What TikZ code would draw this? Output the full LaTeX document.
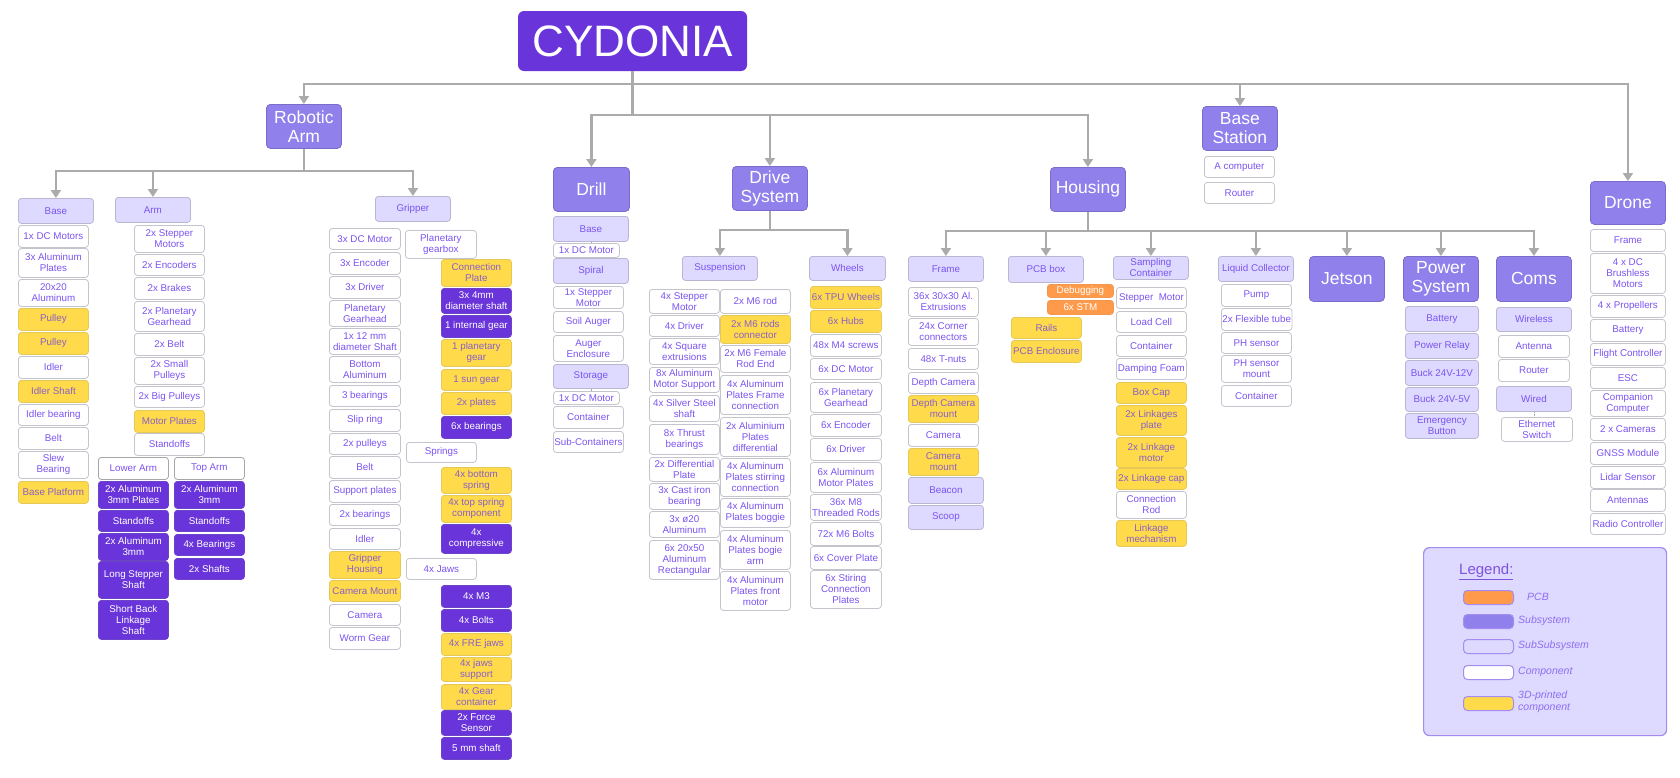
\documentclass[tikz,border=0pt]{standalone}
\usepackage{fontspec}
\setmainfont{Liberation Sans}
\usepackage{tikz}
\usetikzlibrary{positioning}
\usetikzlibrary{arrows.meta}

\definecolor{cydpurple}{RGB}{105,52,218}
\definecolor{subpurple}{RGB}{143,128,236}
\definecolor{subsubfill}{RGB}{221,217,255}
\definecolor{boxline}{RGB}{196,196,204}
\definecolor{txtpurple}{RGB}{124,84,240}
\definecolor{prttxt}{RGB}{138,96,200}
\definecolor{printyellow}{RGB}{255,218,74}
\definecolor{pcborange}{RGB}{255,154,74}
\definecolor{linegrey}{RGB}{171,171,171}
\definecolor{legendline}{RGB}{164,140,240}

\newcommand{\compfont}{\fontsize{9.8}{11}\selectfont}
\newcommand{\subsysfont}{\fontsize{17.5}{19}\selectfont}

\tikzset{
  box/.style={rounded corners=3pt, draw=boxline, line width=0.8pt, align=center, anchor=north west,
    font=\compfont, text=txtpurple, inner xsep=1pt, inner ysep=1pt, minimum width=70pt, minimum height=22pt},
  comp/.style={box, fill=white},
  prt/.style={box, fill=printyellow, draw=printyellow!80!gray, text=prttxt},
  dark/.style={box, fill=cydpurple, draw=cydpurple!80!gray, text=white},
  pcb/.style={box, fill=pcborange, draw=pcborange!90!gray, text=white, minimum width=66pt, minimum height=13pt},
  small/.style={comp, minimum width=66pt, minimum height=14pt},
  subsub/.style={box, fill=subsubfill, draw=boxline!80!subpurple, minimum width=75pt, minimum height=24pt},
  subsys/.style={rounded corners=4pt, fill=subpurple, draw=subpurple!85!black, line width=0.8pt, text=white,
    font=\subsysfont, align=center, minimum width=75pt, minimum height=44pt, inner sep=1pt, anchor=north west},
  link/.style={draw=linegrey, line width=2.4pt, -{Triangle[length=8pt,width=10pt]}},
  stub/.style={draw=linegrey, line width=0.7pt},
  swatch/.style={rounded corners=4pt, draw=legendline, line width=1pt, minimum width=50pt, minimum height=14pt,
    anchor=north west, inner sep=0pt},
  legendtxt/.style={font=\fontsize{10.5}{12}\selectfont\itshape, text=txtpurple!85!white, anchor=west, align=left, inner sep=0pt}
}

\begin{document}
\begin{tikzpicture}[x=1pt, y=-1pt]
\path[fill=white, use as bounding box] (0,0) rectangle (1680,777);

% raiz
\node[rounded corners=6pt, fill=cydpurple, text=white, font=\fontsize{44}{50}\selectfont,
  minimum width=229pt, minimum height=60pt] (cyd) at (632.5,41) {CYDONIA};

% subsistemas
\node[subsys] (robot) at (266,104) {Robotic\\Arm};
\node[subsys, minimum width=76pt] (drill) at (553,167) {Drill};
\node[subsys] (drive) at (732,166) {Drive\\System};
\node[subsys] (housing) at (1050,167) {Housing};
\node[subsys] (station) at (1202,106) {Base\\Station};
\node[subsys, minimum height=43pt] (drone) at (1590,181) {Drone};
\node[subsys, minimum height=45pt] (jetson) at (1309,256) {Jetson};
\node[subsys, minimum height=45pt] (power) at (1403,256) {Power\\System};
\node[subsys, minimum height=45pt] (coms) at (1496,256) {Coms};

\draw[link] (cyd.south) -- ++(0,13) -| (robot.north);
\draw[link] (cyd.south) -- ++(0,13) -| (station.north);
\draw[link] (cyd.south) -- ++(0,13) -| (drone.north);
\draw[link] (cyd.south) -- ++(0,44) -| (drill.north);
\draw[link] (cyd.south) -- ++(0,44) -| (drive.north);
\draw[link] (cyd.south) -- ++(0,44) -| (housing.north);

% brazo robotico
\node[subsub, minimum height=25pt] (armbase) at (18,198) {Base};
\node[subsub, minimum height=25pt] (arm) at (115,197) {Arm};
\node[subsub, minimum height=25pt] (gripper) at (375,196) {Gripper};
\draw[link] (robot.south) -- ++(0,22) -| (armbase.north);
\draw[link] (robot.south) -- ++(0,22) -| (arm.north);
\draw[link] (robot.south) -- ++(0,22) -| (gripper.north);

\foreach \st/\yy/\hh/\lbl [count=\i] in {comp/225/22/1x DC Motors, comp/248/29/3x Aluminum\\Plates,
  comp/279/27/20x20\\Aluminum, prt/308/22/Pulley, prt/332/22/Pulley, comp/356/22/Idler,
  prt/380/22/Idler Shaft, comp/404/21/Idler bearing, comp/427/22/Belt, comp/451/27/Slew\\Bearing,
  prt/481/22/Base Platform}
  \node[\st, minimum height=\hh] (base\i) at (18,\yy) {\lbl};

\foreach \st/\yy/\hh/\lbl [count=\i] in {comp/225/27/2x Stepper\\Motors, comp/254/21/2x Encoders,
  comp/277/22/2x Brakes, comp/301/30/2x Planetary\\Gearhead, comp/333/22/2x Belt,
  comp/357/27/2x Small\\Pulleys, comp/386/21/2x Big Pulleys, prt/410/22/Motor Plates, comp/433/22/Standoffs}
  \node[\st, minimum height=\hh] (arm\i) at (134,\yy) {\lbl};

\node[comp, draw=gray!70] (lowerarm) at (98,457) {Lower Arm};
\node[comp, draw=gray!70] (toparm) at (174,457) {Top Arm};
\foreach \st/\yy/\hh/\lbl [count=\i] in {dark/481/27/2x Aluminum\\3mm Plates, dark/510/21/Standoffs,
  dark/533/27/2x Aluminum\\3mm, dark/561/37/Long Stepper\\Shaft, dark/600/39/Short Back\\Linkage\\Shaft}
  \node[\st, minimum height=\hh] (lower\i) at (98,\yy) {\lbl};
\foreach \st/\yy/\hh/\lbl [count=\i] in {dark/481/27/2x Aluminum\\3mm, dark/510/21/Standoffs,
  dark/534/21/4x Bearings, dark/558/21/2x Shafts}
  \node[\st, minimum height=\hh] (top\i) at (174,\yy) {\lbl};

\foreach \st/\yy/\hh/\lbl [count=\i] in {comp/228/21/3x DC Motor, comp/252/22/3x Encoder,
  comp/276/22/3x Driver, comp/300/26/Planetary\\Gearhead, comp/328/26/1x 12 mm\\diameter Shaft,
  comp/356/26/Bottom\\Aluminum, comp/385/21/3 bearings, comp/409/22/Slip ring, comp/433/21/2x pulleys,
  comp/456/22/Belt, comp/480/22/Support plates, comp/504/21/2x bearings, comp/528/21/Idler,
  prt/551/27/Gripper\\Housing, prt/580/21/Camera Mount, comp/604/21/Camera, comp/627/22/Worm Gear}
  \node[\st, minimum width=71pt, minimum height=\hh] (grip\i) at (329,\yy) {\lbl};

\node[comp, minimum width=71pt, minimum height=28pt] (gearbox) at (405,230) {Planetary\\gearbox};
\node[comp, minimum height=20pt] (springs) at (406,442) {Springs};
\node[comp, minimum height=21pt] (jaws) at (406,558) {4x Jaws};
\foreach \st/\yy/\hh/\lbl [count=\i] in {prt/259/27/Connection\\Plate, dark/288/25/3x 4mm\\diameter shaft,
  dark/315/22/1 internal gear, prt/339/27/1 planetary\\gear, prt/369/21/1 sun gear, prt/392/22/2x plates,
  dark/416/22/6x bearings, prt/467/26/4x bottom\\spring, prt/495/27/4x top spring\\component,
  dark/524/29/4x\\compressive, dark/585/22/4x M3, dark/609/22/4x Bolts, prt/633/22/4x FRE jaws,
  prt/657/24/4x jaws\\support, prt/684/25/4x Gear\\container, dark/710/25/2x Force\\Sensor,
  dark/737/22/5 mm shaft}
  \node[\st, minimum height=\hh] (gear\i) at (441,\yy) {\lbl};

% taladro
\foreach \st/\yy/\hh/\lbl [count=\i] in {subsub/216/25/Base, small/243/14/1x DC Motor, subsub/258/25/Spiral,
  comp/286/22/1x Stepper\\Motor, comp/311/21/Soil Auger, comp/335/26/Auger\\Enclosure,
  subsub/364/24/Storage, small/391/13/1x DC Motor, comp/406/22/Container, comp/431/21/Sub-Containers}
  \node[\st, minimum height=\hh] (drill\i) at (553,\yy) {\lbl};
\draw[stub] (drill1.south) -- (drill1.south |- drill2.north);
\draw[stub] (drill7.south) -- (drill7.south |- drill8.north);

% traccion
\node[subsub] (susp) at (682,256) {Suspension};
\node[subsub, minimum width=76pt] (wheels) at (809,256) {Wheels};
\draw[link] (drive.south) -- ++(0,19) -| (susp.north);
\draw[link] (drive.south) -- ++(0,19) -| (wheels.north);

\foreach \st/\yy/\hh/\lbl [count=\i] in {comp/289/24/4x Stepper\\Motor, comp/315/21/4x Driver,
  comp/338/26/4x Square\\extrusions, comp/367/25/8x Aluminum\\Motor Support, comp/395/26/4x Silver Steel\\shaft,
  comp/424/30/8x Thrust\\bearings, comp/457/24/2x Differential\\Plate, comp/483/26/3x Cast iron\\bearing,
  comp/511/26/3x ø20\\Aluminum, comp/540/39/6x 20x50\\Aluminum\\Rectangular}
  \node[\st, minimum height=\hh] (suspa\i) at (649,\yy) {\lbl};
\foreach \st/\yy/\hh/\lbl [count=\i] in {comp/289/24/2x M6 rod, prt/315/28/2x M6 rods\\connector,
  comp/345/27/2x M6 Female\\Rod End, comp/375/39/4x Aluminum\\Plates Frame\\connection,
  comp/417/39/2x Aluminium\\Plates\\differential, comp/458/38/4x Aluminum\\Plates stirring\\connection,
  comp/498/29/4x Aluminum\\Plates boggie, comp/530/39/4x Aluminum\\Plates bogie\\arm,
  comp/571/39/4x Aluminum\\Plates front\\motor}
  \node[\st, minimum height=\hh] (suspb\i) at (720,\yy) {\lbl};
\foreach \st/\yy/\hh/\lbl [count=\i] in {prt/286/22/6x TPU Wheels, prt/310/22/6x Hubs,
  comp/334/22/48x M4 screws, comp/358/21/6x DC Motor, comp/382/30/6x Planetary\\Gearhead,
  comp/414/22/6x Encoder, comp/438/22/6x Driver, comp/462/30/6x Aluminum\\Motor Plates,
  comp/494/26/36x M8\\Threaded Rods, comp/522/23/72x M6 Bolts, comp/546/23/6x Cover Plate,
  comp/570/38/6x Stiring\\Connection\\Plates}
  \node[\st, minimum width=71pt, minimum height=\hh] (wheel\i) at (810,\yy) {\lbl};

% carcasa
\node[subsub, minimum height=25pt] (frame) at (908,256) {Frame};
\node[subsub, minimum height=26pt] (pcbbox) at (1008,256) {PCB box};
\node[subsub, minimum height=23pt] (sampling) at (1113,256) {Sampling\\Container};
\node[subsub, minimum height=25pt] (liquid) at (1218,256) {Liquid Collector};
\foreach \dest in {frame, pcbbox, sampling, liquid, jetson, power, coms}
  \draw[link] (housing.south) -- ++(0,19) -| (\dest.north);

\foreach \st/\yy/\hh/\lbl [count=\i] in {comp/287/29/36x 30x30 Al.\\Extrusions, comp/318/27/24x Corner\\connectors,
  comp/348/21/48x T-nuts, comp/372/21/Depth Camera, prt/395/27/Depth Camera\\mount, comp/424/22/Camera,
  prt/448/27/Camera\\mount, subsub/477/26/Beacon, subsub/505/24/Scoop}
  \node[\st, minimum height=\hh] (frame\i) at (908,\yy) {\lbl};

\node[pcb] (debug) at (1047,284) {Debugging};
\node[pcb, minimum height=14pt] (stm) at (1047,300) {6x STM};
\node[prt, minimum height=21pt] (rails) at (1011,317) {Rails};
\node[prt] (enclosure) at (1011,340) {PCB Enclosure};

\foreach \st/\yy/\hh/\lbl [count=\i] in {comp/287/21/Stepper~~Motor, comp/311/21/Load Cell,
  comp/335/21/Container, comp/358/21/Damping Foam, prt/382/21/Box Cap, prt/405/30/2x Linkages\\plate,
  prt/437/30/2x Linkage\\motor, prt/468/21/2x Linkage cap, comp/491/27/Connection\\Rod,
  prt/520/26/Linkage\\mechanism}
  \node[\st, minimum height=\hh] (sample\i) at (1116,\yy) {\lbl};

\foreach \st/\yy/\hh/\lbl [count=\i] in {comp/284/22/Pump, comp/308/22/2x Flexible tube,
  comp/332/21/PH sensor, comp/355/27/PH sensor\\mount, comp/385/21/Container}
  \node[\st, minimum height=\hh] (liquid\i) at (1221,\yy) {\lbl};

\foreach \st/\yy/\hh/\lbl [count=\i] in {subsub/306/25/Battery, subsub/333/25/Power Relay,
  subsub/360/25/Buck 24V-12V, subsub/387/24/Buck 24V-5V, subsub/413/25/Emergency\\Button}
  \node[\st, minimum width=73pt, minimum height=\hh] (power\i) at (1405,\yy) {\lbl};

\node[subsub] (wireless) at (1496,307) {Wireless};
\node[comp, minimum width=71pt] (antenna) at (1498,335) {Antenna};
\node[comp, minimum width=71pt] (router) at (1498,359) {Router};
\node[subsub, minimum height=25pt] (wired) at (1496,386) {Wired};
\node[comp, minimum width=71pt, minimum height=24pt] (ethernet) at (1501,417) {Ethernet\\Switch};
\draw[stub, densely dotted] (wired.south) -- (wired.south |- ethernet.north);

% estacion base
\node[comp, minimum height=21pt] (computer) at (1204,156) {A computer};
\node[comp, minimum height=21pt] (stationrouter) at (1204,182) {Router};

% dron
\foreach \st/\yy/\hh/\lbl [count=\i] in {comp/229/22/Frame, comp/253/40/4 x DC\\Brushless\\Motors,
  comp/295/22/4 x Propellers, comp/319/22/Battery, comp/343/22/Flight Controller, comp/367/21/ESC,
  comp/390/26/Companion\\Computer, comp/418/22/2 x Cameras, comp/442/22/GNSS Module,
  comp/466/22/Lidar Sensor, comp/489/22/Antennas, comp/513/21/Radio Controller}
  \node[\st, minimum width=75pt, minimum height=\hh] (drone\i) at (1590,\yy) {\lbl};

% leyenda
\node[draw=legendline, fill=subsubfill, rounded corners=6pt, line width=1.2pt, minimum width=243pt,
  minimum height=188pt, anchor=north west] (legend) at (1423,547) {};
\node[anchor=west, inner sep=0pt, text=cydpurple!85!white, font=\fontsize{15}{17}\selectfont] (legendtitle)
  at (1459,572) {\underline{Legend:}};
\node[swatch, fill=pcborange] (swpcb) at (1463,590) {};
\node[swatch, fill=subpurple] (swsys) at (1463,614) {};
\node[swatch, fill=subsubfill] (swsub) at (1463,639) {};
\node[swatch, fill=white] (swcomp) at (1463,665) {};
\node[swatch, fill=printyellow] (swprint) at (1463,696) {};
\node[legendtxt] (lbpcb) at (1527,597) {PCB};
\node[legendtxt] (lbsys) at (1518,621) {Subsystem};
\node[legendtxt] (lbsub) at (1518,646) {SubSubsystem};
\node[legendtxt] (lbcomp) at (1518,672) {Component};
\node[legendtxt] (lbprint) at (1518,702) {3D-printed\\component};
\end{tikzpicture}
\end{document}
